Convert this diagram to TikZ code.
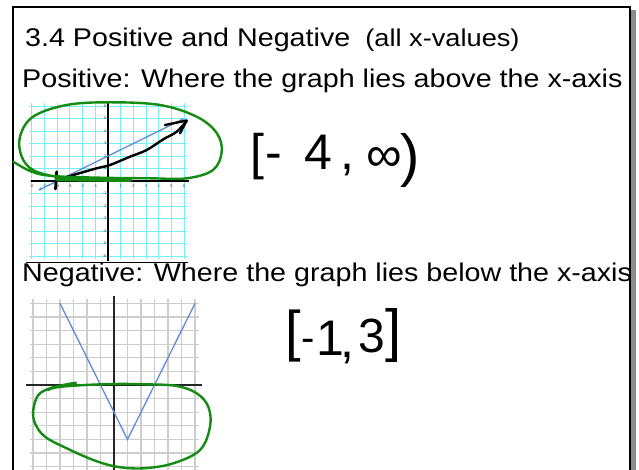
\documentclass[tikz,border=0pt]{standalone}
\usepackage{fontspec}
\setmainfont{Liberation Sans}
\newfontfamily\headfont{Liberation Sans}[FakeStretch=1.12]
\usetikzlibrary{arrows.meta}
\definecolor{bluefnc}{RGB}{95,140,215}
\definecolor{greeninkc}{RGB}{20,140,20}
\definecolor{cyangridc}{RGB}{120,238,245}
\definecolor{graygridc}{RGB}{205,205,205}
\definecolor{shadowc}{RGB}{140,140,140}
\tikzset{
  frameline/.style={black, line width=2pt},
  cyangrid/.style={cyangridc, line width=0.9pt},
  graygrid/.style={graygridc, line width=1.2pt},
  axisline/.style={black, line width=1.6pt},
  bluefn/.style={bluefnc, line width=1.3pt},
  greenink/.style={greeninkc, line width=2.4pt, line cap=round, line join=round},
  blackink/.style={black, line width=2.4pt, line cap=round, line join=round},
  heading/.style={anchor=base west, inner sep=0pt, font=\headfont\fontsize{25.6}{28}\selectfont},
  hand/.style={anchor=base west, inner sep=0pt, font=\fontsize{50}{50}\selectfont},
  ticklab/.style={inner sep=0pt, font=\fontsize{4}{4}\selectfont, text=black!75}
}
\begin{document}
\begin{tikzpicture}[x=1pt,y=-1pt]
\useasboundingbox[fill=white] (0,0) rectangle (639,470);
% frame
\fill[shadowc] (631,10) rectangle (636,470);
\draw[frameline] (13,471) -- (13,7) -- (630,7) -- (630,471);
% headings
\node[heading] (title) at (25,47) {3.4 Positive and Negative\hspace{15pt}{\fontsize{24.3}{27}\selectfont(all x-values)}};
\node[heading] (pos) at (22,87.5) {Positive: Where the graph lies above the x-axis};
\node[heading] (neg) at (22,281) {Negative: Where the graph lies below the x-axis};
% upper graph
\begin{scope}[shift={(108pt,-181pt)}, x=12.7pt, y=12.5pt]
  \foreach \k in {-6,...,6} {
    \draw[cyangrid] (\k,-6.2) -- (\k,6.2);
    \draw[cyangrid] (-6.2,\k) -- (6.2,\k);
  }
  \draw[axisline] (-6.1,0) -- (6.4,0);
  \draw[axisline] (0,-6.4) -- (0,6.2);
  \foreach \k in {-6,-5,-4,-3,-2,-1,1,2,3,4,5,6} {
    \node[ticklab] (xl\k) at (\k,-0.42) {\k};
    \node[ticklab, anchor=east] (yl\k) at (-0.12,\k) {\k};
  }
  \draw[bluefn, {Stealth[length=4pt,width=3.5pt]}-{Stealth[length=4pt,width=3.5pt]}] (-5.5,-0.75) -- (6,5);
\end{scope}
\draw[black, line width=1.2pt] (26,262.3) -- (188,262.3);
% black hand arrow
\draw[blackink] plot[smooth, tension=0.6] coordinates {(56.7,180) (73.3,175) (96.7,168.3) (110,165) (130,156.7) (146.7,150) (163.3,139.3) (176.7,131.7) (186.7,120.7)};
\draw[blackink] (165,125) -- (186.7,120.5) -- (180,133.3);
\draw[blackink, line width=2.8pt] (56.7,171.7) -- (55.5,189);
% green loop upper
\draw[greenink, line width=4pt] (57,179.3) -- (130,180);
\draw[greenink] plot[smooth, tension=0.6] coordinates {(13.3,161.7) (31.7,171.7) (53,176) (100,177.7) (150,178.3) (186.7,178.3) (213,170) (221.7,151.7) (216.7,133) (196.7,116.7) (160,105) (110,102.3) (66.7,105) (33,116.7) (20,136.7) (21.7,156.7) (33,170) (55,176.5) (75,177.5)};
% handwritten interval 1
\node[hand] (lb1) at (250,170) {[};
\node[hand] (mi1) at (265,170) {-};
\node[hand] (four) at (304,170) {4};
\node[hand] (cm1) at (340,170) {,};
\node[hand] (inf) at (366,172) {∞};
\node[hand, font=\fontsize{58}{58}\selectfont] (rp1) at (400,176) {)};
% lower graph
\begin{scope}[shift={(114pt,-385pt)}, x=13.5pt, y=13.6pt]
  \foreach \k in {-6,...,6} {
    \draw[graygrid] (\k,-6.4) -- (\k,6.3);
    \draw[graygrid] (-6.2,\k) -- (6.3,\k);
  }
  \draw[axisline, black!85] (-6.55,0) -- (6.55,0);
  \draw[axisline, black!85] (0,-6.5) -- (0,6.55);
  \draw[bluefn, line join=miter] (-4,6) -- (1,-4) -- (6,6);
\end{scope}
% green loop lower
\draw[greenink] plot[smooth, tension=0.6] coordinates {(76,382.7) (63.3,385) (50,388.3) (38.3,395) (33.3,410) (35,423.3) (45,436.7) (66.7,448.3) (93.3,460) (116.7,466.7) (143.3,468.3) (173.3,463.3) (200,450) (210,426.7) (208.3,406.7) (196.7,393.3) (176.7,386) (146.7,384.3) (113.3,384) (80,385.3) (56.7,387.3) (48,390)};
% handwritten interval 2
\node[hand, font=\fontsize{56}{56}\selectfont] (lb2) at (285,350) {[};
\node[hand, font=\fontsize{40}{40}\selectfont] (mi2) at (301,351) {-};
\node[hand] (one) at (316,355) {1};
\node[hand] (cm2) at (340,357) {,};
\node[hand, font=\fontsize{48}{48}\selectfont] (three) at (358,352) {3};
\node[hand, font=\fontsize{58}{58}\selectfont] (rb2) at (385,350) {]};
\end{tikzpicture}
\end{document}
